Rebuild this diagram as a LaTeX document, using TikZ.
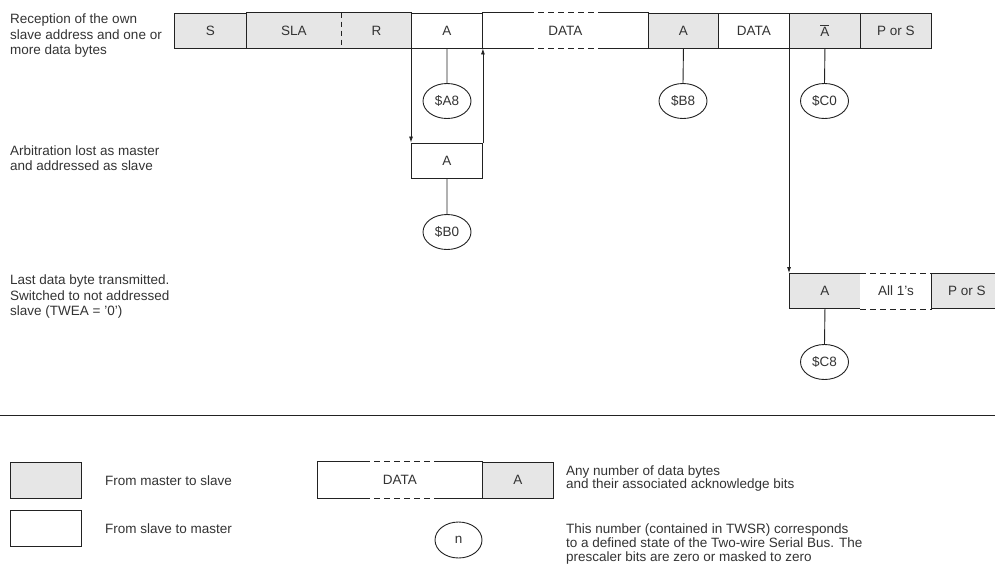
\documentclass[tikz,border=0pt]{standalone}
\usepackage{fontspec}
\setmainfont{Liberation Sans}
\usetikzlibrary{arrows.meta,shapes.geometric}
\definecolor{fillg}{HTML}{E6E6E6}
\definecolor{ink}{HTML}{333333}
\definecolor{edge}{HTML}{222222}
\begin{document}
\begin{tikzpicture}[x=1pt,y=-1pt,
  font=\fontsize{13.5}{15.5}\selectfont,
  cell/.style={draw=edge, line width=0.9pt, minimum height=35pt, inner sep=0pt, anchor=west, text=ink},
  ms/.style={cell, fill=fillg},
  sm/.style={cell, fill=white},
  bare/.style={cell, draw=none},
  state/.style={ellipse, draw=edge, line width=0.9pt, minimum width=48pt, minimum height=35pt, inner sep=0pt, text=ink},
  link/.style={line width=0.9pt, draw=edge},
  flow/.style={line width=0.8pt, draw=edge, -{Latex[length=6pt,width=4pt]}},
  dsh/.style={line width=0.9pt, draw=edge, dash pattern=on 6pt off 4pt},
  note/.style={align=left, anchor=west, text=ink, inner sep=0pt},
]
\useasboundingbox (0,0) rectangle (995,565);

% ---------- top row ----------
\node[ms, minimum width=72] (s) at (174,30.5) {S};
\node[bare, fill=fillg, minimum width=95] (sla) at (246,30.5) {SLA};
\node[bare, fill=fillg, minimum width=70] (r) at (341,30.5) {R};
\draw[link] (sla.north west) rectangle (r.south east);
\draw[dsh, dash pattern=on 5pt off 4pt] (sla.north east) -- (sla.south east);
\node[sm, minimum width=71] (a1) at (411,30.5) {A};
\node[bare, fill=white, minimum width=166] (d1) at (482,30.5) {DATA};
\draw[link] (d1.north west) -- (d1.south west);
\draw[link] (d1.north east) -- (d1.south east);
\draw[link] (d1.north west) -- ([xshift=46pt]d1.north west);
\draw[link] (d1.south west) -- ([xshift=46pt]d1.south west);
\draw[link] (d1.north east) -- ([xshift=-48pt]d1.north east);
\draw[link] (d1.south east) -- ([xshift=-48pt]d1.south east);
\draw[dsh] ([xshift=46pt]d1.north west) -- ([xshift=-48pt]d1.north east);
\draw[dsh] ([xshift=46pt]d1.south west) -- ([xshift=-48pt]d1.south east);
\node[ms, minimum width=70] (b8a) at (648,30.5) {A};
\node[sm, minimum width=71] (d2) at (718,30.5) {DATA};
\node[ms, minimum width=71] (na) at (789,30.5) {$\overline{\mbox{A}}$};
\node[ms, minimum width=71] (ps1) at (860,30.5) {P or S};

% ---------- arbitration row ----------
\node[sm, minimum width=71] (a2) at (411,160.5) {A};
\draw[flow] (a1.south west) -- (a2.north west);
\draw[flow] (a2.north east) -- (a1.south east);

% ---------- last byte row ----------
\node[ms, minimum width=71] (a3) at (789,291) {A};
\node[bare, fill=white, minimum width=71] (all) at (860,291) {All 1's};
\draw[dsh] (all.north west) -- (all.north east);
\draw[dsh] (all.south west) -- (all.south east);
\node[ms, minimum width=71] (ps2) at (931,291) {P or S};
\draw[flow] (na.south west) -- (a3.north west);

% ---------- states ----------
\node[state] (sa8) at (447,101) {\$A8};
\node[state] (sb8) at (683,101) {\$B8};
\node[state] (sc0) at (824.5,101) {\$C0};
\node[state] (sb0) at (447,232) {\$B0};
\node[state] (sc8) at (824.5,362) {\$C8};
\draw[link] (a1.south) -- (sa8.north);
\draw[link] (b8a.south) -- (sb8.north);
\draw[link] (na.south) -- (sc0.north);
\draw[link] (a2.south) -- (sb0.north);
\draw[link] (a3.south) -- (sc8.north);

% ---------- row captions ----------
\node[note] (t1) at (10,36) {Reception of the own\\slave address and one or\\more data bytes};
\node[note] (t2) at (10,158) {Arbitration lost as master\\and addressed as slave};
\node[note] (t3) at (10,297) {Last data byte transmitted.\\Switched to not addressed\\slave (TWEA = '0')};

% ---------- separator ----------
\draw[link] (0,415) -- (995,415);

% ---------- legend ----------
\node[ms, minimum width=71, minimum height=36pt] (lg) at (10,480) {};
\node[note] (lgt) at (105,481) {From master to slave};
\node[sm, minimum width=71, minimum height=36pt] (lw) at (10,528) {};
\node[note] (lwt) at (105,529) {From slave to master};

\node[bare, fill=white, minimum width=165, minimum height=36pt] (ld) at (317,480) {DATA};
\draw[link] (ld.north west) -- (ld.south west);
\draw[link] (ld.north west) -- ([xshift=47pt]ld.north west);
\draw[link] (ld.south west) -- ([xshift=47pt]ld.south west);
\draw[link] (ld.north east) -- ([xshift=-47pt]ld.north east);
\draw[link] (ld.south east) -- ([xshift=-47pt]ld.south east);
\draw[dsh] ([xshift=47pt]ld.north west) -- ([xshift=-47pt]ld.north east);
\draw[dsh] ([xshift=47pt]ld.south west) -- ([xshift=-47pt]ld.south east);
\node[ms, minimum width=71, minimum height=36pt] (la) at (482,480) {A};
\node[note, font=\fontsize{13.5}{13.5}\selectfont] (lat) at (566,478.5) {Any number of data bytes\\and their associated acknowledge bits};

\node[state, minimum width=47pt, minimum height=36pt] (ln) at (458.5,540) {n};
\node[note, font=\fontsize{13.5}{14}\selectfont] (lnt) at (566,544) {This number (contained in TWSR) corresponds\\to a defined state of the Two-wire Serial Bus. The\\prescaler bits are zero or masked to zero};
\end{tikzpicture}
\end{document}
